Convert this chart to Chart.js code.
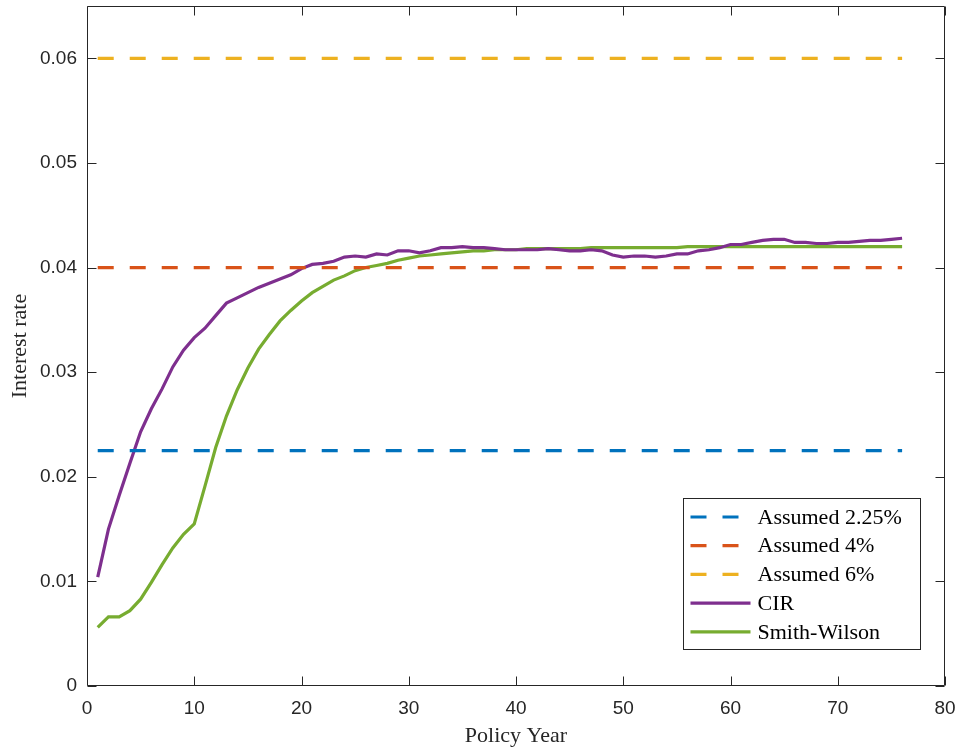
<!DOCTYPE html>
<html>
<head>
<meta charset="utf-8">
<script src="https://cdn.jsdelivr.net/npm/chart.js@4.4.1/dist/chart.umd.min.js"></script>
<style>
  html, body { margin: 0; padding: 0; background: #fff; }
  #wrap { width: 958px; height: 751px; position: relative; }
</style>
</head>
<body>
<div id="wrap"><canvas id="rateChart"></canvas></div>
<script>
// Policy years (x)
const policyYears = [1, 2, 3, 4, 5, 6, 7, 8, 9, 10, 11, 12, 13, 14, 15, 16, 17, 18, 19, 20,
    21, 22, 23, 24, 25, 26, 27, 28, 29, 30, 31, 32, 33, 34, 35, 36, 37, 38, 39, 40,
    41, 42, 43, 44, 45, 46, 47, 48, 49, 50, 51, 52, 53, 54, 55, 56, 57, 58, 59, 60,
    61, 62, 63, 64, 65, 66, 67, 68, 69, 70, 71, 72, 73, 74, 75, 76];

// Flat assumed rates
const assumedRates = [0.0225, 0.04, 0.06];
const assumedLabels = ['Assumed 2.25%', 'Assumed 4%', 'Assumed 6%'];

// CIR model rates
const cirRates = [0.0104, 0.0150, 0.0182, 0.0213, 0.0243, 0.0265, 0.0284, 0.0305, 0.0321, 0.0333,
    0.0342, 0.0354, 0.0366, 0.0371, 0.0376, 0.0381, 0.0385, 0.0389, 0.0393, 0.0399,
    0.0403, 0.0404, 0.0406, 0.0410, 0.0411, 0.0410, 0.0413, 0.0412, 0.0416, 0.0416,
    0.0414, 0.0416, 0.0419, 0.0419, 0.0420, 0.0419, 0.0419, 0.0418, 0.0417, 0.0417,
    0.0417, 0.0417, 0.0418, 0.0417, 0.0416, 0.0416, 0.0417, 0.0416, 0.0412, 0.0410,
    0.0411, 0.0411, 0.0410, 0.0411, 0.0413, 0.0413, 0.0416, 0.0417, 0.0419, 0.0422,
    0.0422, 0.0424, 0.0426, 0.0427, 0.0427, 0.0424, 0.0424, 0.0423, 0.0423, 0.0424,
    0.0424, 0.0425, 0.0426, 0.0426, 0.0427, 0.0428];

// Smith-Wilson rates
const swRates = [0.0056, 0.0066, 0.0066, 0.0072, 0.0083, 0.0099, 0.0116, 0.0132, 0.0145, 0.0155,
    0.0191, 0.0228, 0.0258, 0.0283, 0.0304, 0.0322, 0.0336, 0.0349, 0.0359, 0.0368,
    0.0376, 0.0382, 0.0388, 0.0392, 0.0397, 0.0400, 0.0402, 0.0404, 0.0407, 0.0409,
    0.0411, 0.0412, 0.0413, 0.0414, 0.0415, 0.0416, 0.0416, 0.0417, 0.0417, 0.0417,
    0.0418, 0.0418, 0.0418, 0.0418, 0.0418, 0.0418, 0.0419, 0.0419, 0.0419, 0.0419,
    0.0419, 0.0419, 0.0419, 0.0419, 0.0419, 0.0420, 0.0420, 0.0420, 0.0420, 0.0420,
    0.0420, 0.0420, 0.0420, 0.0420, 0.0420, 0.0420, 0.0420, 0.0420, 0.0420, 0.0420,
    0.0420, 0.0420, 0.0420, 0.0420, 0.0420, 0.0420];

// Axis ticks
const xTicks = [0, 10, 20, 30, 40, 50, 60, 70, 80];
const yTicks = [0, 0.01, 0.02, 0.03, 0.04, 0.05, 0.06];

const assumedColors = ['#0072BD', '#D95319', '#EDB120'];
const axisColor = '#262626';
const lineW = 3.2;

function toPoints(values) {
    return policyYears.map((yr, i) => ({ x: yr, y: values[i] }));
}

const datasets = assumedRates.map((rate, i) => ({
    label: assumedLabels[i],
    data: toPoints(policyYears.map(() => rate)),
    borderColor: assumedColors[i],
    borderWidth: lineW,
    borderDash: [16, 16],
    pointRadius: 0,
    fill: false
}));
datasets.push({
    label: 'CIR',
    data: toPoints(cirRates),
    borderColor: '#7E2F8E',
    borderWidth: lineW,
    pointRadius: 0,
    fill: false
});
datasets.push({
    label: 'Smith-Wilson',
    data: toPoints(swRates),
    borderColor: '#77AC30',
    borderWidth: lineW,
    pointRadius: 0,
    fill: false
});

// Kutu ve içe dönük tick çizgileri (MATLAB stili)
const boxPlugin = {
    id: 'boxPlugin',
    afterDatasetsDraw(chart) {
        const { ctx, chartArea, scales } = chart;
        const l = Math.round(chartArea.left) + 0.5;
        const r = Math.round(chartArea.right) - 0.5;
        const t = Math.round(chartArea.top) + 0.5;
        const b = Math.round(chartArea.bottom) - 0.5;
        const len = 9;
        ctx.save();
        ctx.strokeStyle = axisColor;
        ctx.lineWidth = 1;
        ctx.beginPath();
        ctx.rect(l, t, r - l, b - t);
        xTicks.forEach(v => {
            const x = Math.round(scales.x.getPixelForValue(v)) + 0.5;
            ctx.moveTo(x, b); ctx.lineTo(x, b - len);
            ctx.moveTo(x, t); ctx.lineTo(x, t + len);
        });
        yTicks.forEach(v => {
            const y = Math.round(scales.y.getPixelForValue(v)) + 0.5;
            ctx.moveTo(l, y); ctx.lineTo(l + len, y);
            ctx.moveTo(r, y); ctx.lineTo(r - len, y);
        });
        ctx.stroke();
        ctx.restore();
    }
};

// Grafik içi lejant
const legendPlugin = {
    id: 'insideLegend',
    afterDraw(chart) {
        const { ctx, chartArea } = chart;
        const boxW = 237, boxH = 151;
        const x0 = Math.round(chartArea.right - 25 - boxW) + 0.5;
        const y0 = Math.round(chartArea.bottom - 37 - boxH) + 0.5;
        ctx.save();
        ctx.fillStyle = '#ffffff';
        ctx.fillRect(x0, y0, boxW, boxH);
        ctx.strokeStyle = axisColor;
        ctx.lineWidth = 1;
        ctx.strokeRect(x0, y0, boxW, boxH);
        ctx.font = '22px "Liberation Serif", "Times New Roman", serif';
        ctx.textBaseline = 'middle';
        ctx.fillStyle = '#000000';
        chart.data.datasets.forEach((ds, i) => {
            const cy = y0 + 18.5 + i * 28.7;
            ctx.beginPath();
            ctx.strokeStyle = ds.borderColor;
            ctx.lineWidth = lineW;
            ctx.setLineDash(ds.borderDash || []);
            ctx.moveTo(x0 + 7, cy);
            ctx.lineTo(x0 + (ds.borderDash ? 55 : 67), cy);
            ctx.stroke();
            ctx.setLineDash([]);
            ctx.fillText(ds.label, x0 + 74, cy + 1);
        });
        ctx.restore();
    }
};

new Chart(document.getElementById('rateChart'), {
    type: 'line',
    data: { datasets },
    options: {
        responsive: true,
        maintainAspectRatio: false,
        animation: false,
        layout: { padding: { top: 6, right: 13, bottom: 0, left: 0 } },
        plugins: {
            legend: { display: false },
            tooltip: { enabled: false }
        },
        elements: { line: { tension: 0 } },
        scales: {
            x: {
                type: 'linear',
                min: 0,
                max: 80,
                afterBuildTicks: scale => { scale.ticks = xTicks.map(v => ({ value: v })); },
                afterFit: scale => {
                    scale.height = 65;
                    scale.paddingLeft = 0;
                    scale.paddingRight = 0;
                },
                grid: { display: false, drawTicks: false },
                border: { display: false },
                ticks: {
                    padding: 11,
                    color: axisColor,
                    maxRotation: 0,
                    font: { family: '"Liberation Sans", Arial, sans-serif', size: 19 }
                },
                title: {
                    display: true,
                    text: 'Policy Year',
                    color: axisColor,
                    padding: { top: 0, bottom: 2 },
                    font: { family: '"Liberation Serif", "Times New Roman", serif', size: 22 }
                }
            },
            y: {
                type: 'linear',
                min: 0,
                max: 0.065,
                afterBuildTicks: scale => { scale.ticks = yTicks.map(v => ({ value: v })); },
                afterFit: scale => {
                    scale.width = 87;
                    scale.paddingTop = 0;
                    scale.paddingBottom = 0;
                },
                grid: { display: false, drawTicks: false },
                border: { display: false },
                ticks: {
                    padding: 10,
                    color: axisColor,
                    font: { family: '"Liberation Sans", Arial, sans-serif', size: 19 },
                    callback: v => (v === 0 ? '0' : v.toFixed(2))
                },
                title: {
                    display: true,
                    text: 'Interest rate',
                    color: axisColor,
                    padding: { top: 7, bottom: 0 },
                    font: { family: '"Liberation Serif", "Times New Roman", serif', size: 22 }
                }
            }
        }
    },
    plugins: [boxPlugin, legendPlugin]
});
</script>
</body>
</html>
